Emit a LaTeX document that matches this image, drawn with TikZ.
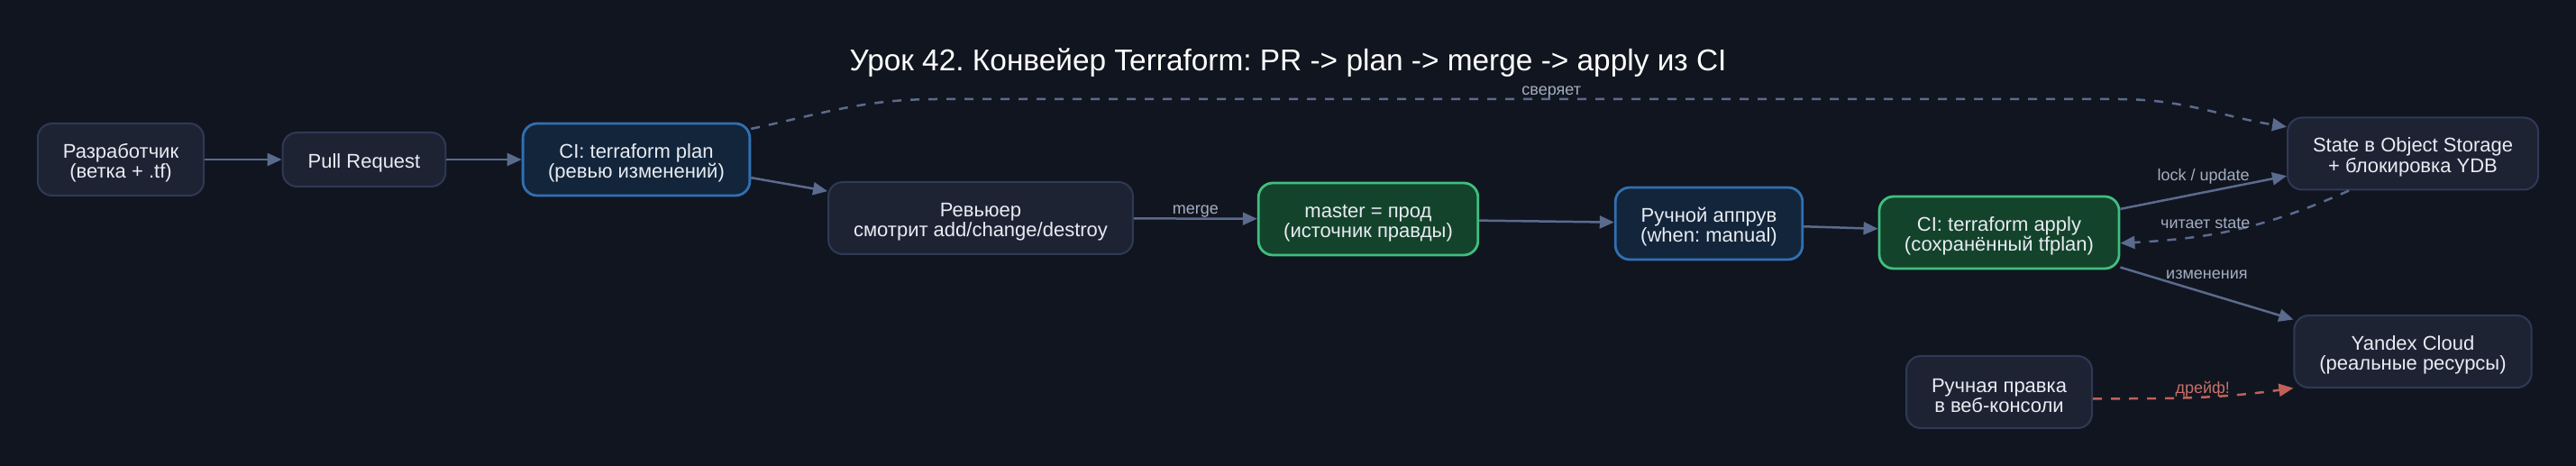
\documentclass[tikz,border=0pt]{standalone}
\usepackage{fontspec}
\setmainfont{Liberation Sans}
\usepackage{tikz}
\usetikzlibrary{arrows.meta,positioning}
\frenchspacing
\definecolor{Canvas}{HTML}{11151F}
\definecolor{BoxFill}{HTML}{1E2334}
\definecolor{BoxLine}{HTML}{2E3A55}
\definecolor{CiFill}{HTML}{13253B}
\definecolor{CiLine}{HTML}{3070B3}
\definecolor{OkFill}{HTML}{14432C}
\definecolor{OkLine}{HTML}{3FBF7F}
\definecolor{Ink}{HTML}{E8ECF2}
\definecolor{Edge}{HTML}{5A6B8E}
\definecolor{Note}{HTML}{A3AEC2}
\definecolor{Drift}{HTML}{C0605A}

\begin{document}
\begin{tikzpicture}[
  on grid,
  boxbase/.style={draw=BoxLine,line width=1pt,fill=BoxFill,rounded corners=8pt,minimum height=40pt,inner xsep=14pt,align=center,text=Ink,font=\fontsize{11}{11.2}\selectfont},
  box/.style={boxbase,execute at begin node={\rule{0pt}{23pt}}},
  cibox/.style={box,draw=CiLine,fill=CiFill,line width=1.4pt},
  okbox/.style={box,draw=OkLine,fill=OkFill,line width=1.4pt},
  lbl/.style={font=\fontsize{9}{10}\selectfont,text=Note,inner sep=1pt},
  arrow/.style={-{Triangle[length=8pt,width=7pt]},line width=1.25pt,draw=Edge},
  dasharrow/.style={arrow,dash pattern=on 5pt off 5pt},
  drift/.style={dasharrow,draw=Drift}
]
\fill[Canvas] (0,0) rectangle (1429pt,-258.5pt);
\node[font=\fontsize{16.7}{20}\selectfont,text=white] (title) at (714.5pt,-35pt) {Урок 42. Конвейер Terraform: PR -> plan -> merge -> apply из CI};
\node[box] (dev) at (67pt,-88.5pt) {Разработчик\\(ветка + .tf)};
\node[boxbase,minimum height=30pt,right=135pt of dev,execute at begin node={\rule{0pt}{11.3pt}}] (pr) {Pull Request};
\node[cibox,right=151pt of pr] (plan) {CI: terraform plan\\(ревью изменений)};
\node[box,below right=32.5pt and 191pt of plan] (review) {Ревьюер\\смотрит add/change/destroy};
\node[okbox,below right=0.5pt and 215pt of review] (master) {master = прод\\(источник правды)};
\node[cibox,below right=2.5pt and 189pt of master] (approve) {Ручной аппрув\\(when: manual)};
\node[okbox,below right=5pt and 161pt of approve] (apply) {CI: terraform apply\\(сохранённый tfplan)};
\node[box,above right=43.75pt and 229.5pt of apply] (state) {State в Object Storage\\+ блокировка YDB};
\node[box,below=109.75pt of state] (cloud) {Yandex Cloud\\(реальные ресурсы)};
\node[box,below=88.5pt of apply] (manual) {Ручная правка\\в веб-консоли};
\draw[arrow] (dev) -- (pr);
\draw[arrow] (pr) -- (plan);
\draw[arrow] (plan.-9) -- (review.170);
\draw[arrow] (review) -- node[lbl,above=-1pt]{merge} (master);
\draw[arrow] (master) -- (approve);
\draw[arrow] (approve) -- (apply);
\draw[arrow] (apply.11) -- node[lbl,above=3pt]{lock / update} (state.190);
\draw[dasharrow] (state.210) to[out=204,in=3] node[lbl,pos=0.65,above=2pt]{читает state} (apply.-5);
\draw[arrow] (apply.-16) -- node[lbl,above=6.5pt]{изменения} (cloud.165);
\draw[drift] (manual.-4) to[out=0,in=188] node[lbl,text=Drift!90!white,pos=0.55,above=-1.5pt]{дрейф!} (cloud.197);
\draw[dasharrow] (plan.15) to[out=12,in=180] (520pt,-55pt) -- node[lbl,pos=0.52,above=-1pt]{сверяет} (1175pt,-55pt) to[out=0,in=171] (state.168);
\end{tikzpicture}
\end{document}
